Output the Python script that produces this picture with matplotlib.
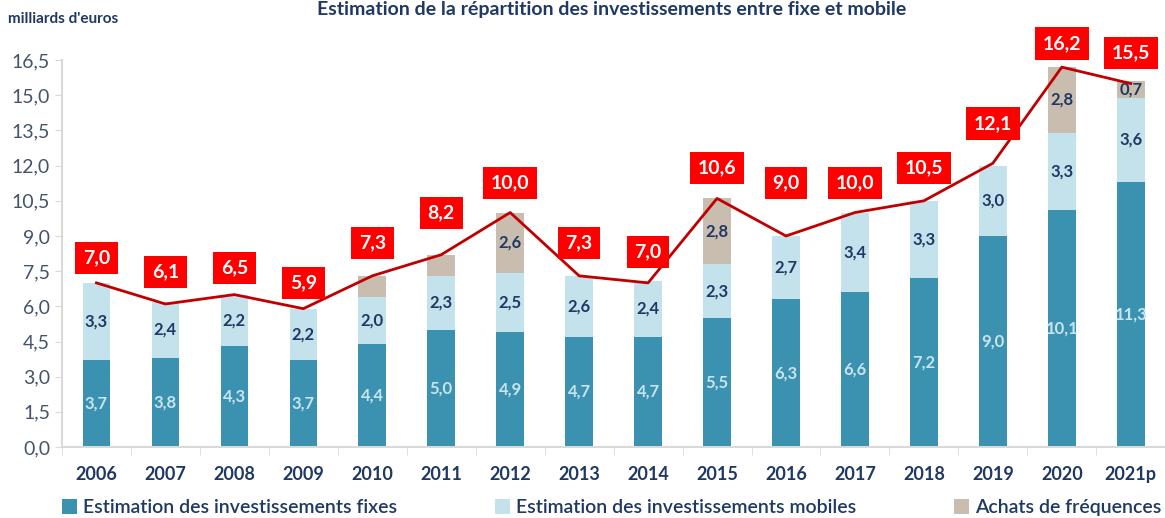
import numpy as np
import matplotlib.pyplot as plt
from matplotlib.ticker import FuncFormatter

plt.rcParams['font.family'] = ['Lato', 'DejaVu Sans']

# Données (milliards d'euros)
annees = ['2006', '2007', '2008', '2009', '2010', '2011', '2012', '2013',
          '2014', '2015', '2016', '2017', '2018', '2019', '2020', '2021p']
fixes = [3.7, 3.8, 4.3, 3.7, 4.4, 5.0, 4.9, 4.7, 4.7, 5.5, 6.3, 6.6, 7.2, 9.0, 10.1, 11.3]
mobiles = [3.3, 2.4, 2.2, 2.2, 2.0, 2.3, 2.5, 2.6, 2.4, 2.3, 2.7, 3.4, 3.3, 3.0, 3.3, 3.6]
frequences = [0, 0, 0, 0, 0.9, 0.9, 2.6, 0, 0, 2.8, 0, 0, 0, 0, 2.8, 0.7]
frequences_visibles = [False, False, False, False, False, False, True, False,
                       False, True, False, False, False, False, True, True]
totaux = [7.0, 6.1, 6.5, 5.9, 7.3, 8.2, 10.0, 7.3, 7.0, 10.6, 9.0, 10.0, 10.5, 12.1, 16.2, 15.5]
# décalage vertical des étiquettes rouges
decalage = [1.06, 1.36, 1.13, 1.1, 1.4, 1.78, 1.26, 1.4, 1.32, 1.3, 2.26, 1.26, 1.4, 1.7, 1.0, 1.3]

c_fixe = '#3B91B0'
c_mobile = '#C4E2EC'
c_freq = '#C9BDAF'
c_texte = '#1F3864'

def fmt(v):
    return f'{v:.1f}'.replace('.', ',')

fig = plt.figure(figsize=(11.65, 5.18), dpi=100)
ax = fig.add_axes([0.0532, 0.137, 0.947, 0.747])

x = np.arange(len(annees))
w = 0.4
fixes = np.array(fixes)
mobiles = np.array(mobiles)
frequences = np.array(frequences)

b1 = ax.bar(x, fixes, w, color=c_fixe, label='Estimation des investissements fixes')
b2 = ax.bar(x, mobiles, w, bottom=fixes, color=c_mobile,
            label='Estimation des investissements mobiles')
b3 = ax.bar(x, frequences, w, bottom=fixes + mobiles, color=c_freq,
            label='Achats de fréquences')

ax.bar_label(b1, labels=[fmt(v) for v in fixes], label_type='center',
             color='#C8E4EE', fontsize=12, fontweight='bold')
ax.bar_label(b2, labels=[fmt(v) for v in mobiles], label_type='center',
             color=c_texte, fontsize=12, fontweight='bold')
ax.bar_label(b3, labels=[fmt(v) if s else '' for v, s in zip(frequences, frequences_visibles)],
             label_type='center', color=c_texte, fontsize=12, fontweight='bold')

ax.plot(x, totaux, color='#C00000', lw=2, zorder=3)
for xi, t, d in zip(x, totaux, decalage):
    ax.text(xi, t + d, fmt(t), ha='center', va='center', color='white',
            fontsize=14, fontweight='bold', clip_on=False, zorder=5,
            bbox=dict(boxstyle='square,pad=0.4', fc='#FF0000', ec='none'))

ax.set_xlim(-0.5, len(annees) - 0.5)
ax.set_ylim(0, 16.5)
ax.set_yticks(np.arange(0, 16.6, 1.5))
ax.yaxis.set_major_formatter(FuncFormatter(lambda v, p: fmt(v)))
ax.tick_params(axis='y', labelsize=14, labelcolor='#44546A', color='#D9D9D9', length=5)

ax.set_xticks(x)
ax.set_xticklabels(annees, fontsize=13, fontweight='bold', color=c_texte)
ax.set_xticks(np.arange(-0.5, len(annees), 1), minor=True)
ax.tick_params(axis='x', which='major', length=0, pad=14)
ax.tick_params(axis='x', which='minor', length=6, color='#D9D9D9')

for s in ['top', 'right']:
    ax.spines[s].set_visible(False)
for s in ['left', 'bottom']:
    ax.spines[s].set_color('#D9D9D9')
    ax.spines[s].set_linewidth(1.5)

fig.text(0.525, 0.998, 'Estimation de la répartition des investissements entre fixe et mobile',
         ha='center', va='top', fontsize=14, fontweight='bold', color=c_texte)
fig.text(0.007, 0.963, "milliards d'euros", ha='left', va='center',
         fontsize=11, fontweight='bold', color=c_texte)

fig.legend(handles=[b1, b2, b3], loc='lower center', bbox_to_anchor=(0.525, -0.03),
           ncol=3, frameon=False, prop={'size': 14, 'weight': 'semibold'},
           handlelength=0.8, handleheight=0.8,
           handletextpad=0.3, columnspacing=5, labelcolor=c_texte)

fig.savefig('out.png', dpi=100)
